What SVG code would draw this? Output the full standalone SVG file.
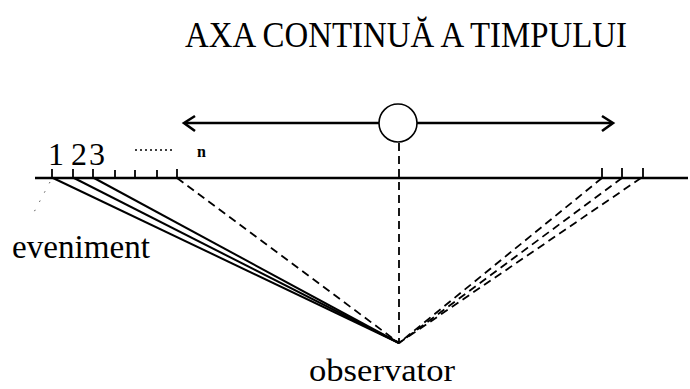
<svg xmlns="http://www.w3.org/2000/svg" width="690" height="389" viewBox="0 0 690 389">
<style>
.t{font-family:"Liberation Serif","Times New Roman",serif;fill:#000}
.ln{stroke:#000;fill:none}
.dash{stroke:#000;stroke-width:1.8;stroke-dasharray:8 5;fill:none}
.solid{stroke:#000;stroke-width:2;fill:none}
.tick{stroke:#000;stroke-width:1.8}
</style>
<rect width="690" height="389" fill="#fff"/>
<g id="title"><text class="t" x="185" y="47" font-size="36" textLength="442" lengthAdjust="spacingAndGlyphs">AXA CONTINUĂ A TIMPULUI</text></g>
<g id="time-arrow">
<line class="ln" x1="185" y1="123" x2="379" y2="123" stroke-width="2.6"/>
<line class="ln" x1="417" y1="123" x2="611" y2="123" stroke-width="2.6"/>
<polyline class="ln" points="195,116 184,123 195,131" stroke-width="2.6"/>
<polyline class="ln" points="602,116 613,123 602,131" stroke-width="2.6"/>
</g>
<g id="present"><circle cx="398" cy="123" r="19" fill="#fff" stroke="#000" stroke-width="1.6"/></g>
<g id="axis">
<line class="ln" x1="35" y1="178" x2="688" y2="178" stroke-width="2.4"/>
<g class="tick">
<line x1="52" y1="169" x2="52" y2="178"/>
<line x1="73" y1="169" x2="73" y2="178"/>
<line x1="93" y1="169" x2="93" y2="178"/>
<line x1="115" y1="170" x2="115" y2="178"/>
<line x1="135" y1="170" x2="135" y2="178"/>
<line x1="157" y1="170" x2="157" y2="178"/>
<line x1="177" y1="169" x2="177" y2="178"/>
<line x1="602" y1="168" x2="602" y2="178"/>
<line x1="622" y1="168" x2="622" y2="178"/>
<line x1="643" y1="168" x2="643" y2="178"/>
</g>
<text class="t" font-size="32" y="165"><tspan x="48">1</tspan><tspan x="71">2</tspan><tspan x="89">3</tspan></text>
<line x1="135" y1="150" x2="175" y2="150" stroke="#000" stroke-width="1.4" stroke-dasharray="2 3"/>
<text class="t" x="197" y="157" font-size="16" font-weight="bold">n</text>
</g>
<g id="connectors">
<line class="solid" x1="53" y1="178" x2="399" y2="343"/>
<line class="solid" x1="74" y1="178" x2="399" y2="343"/>
<line class="solid" x1="94" y1="178" x2="399" y2="343"/>
<line class="dash" x1="177" y1="178" x2="399" y2="343"/>
<line class="dash" x1="399" y1="143" x2="399" y2="343"/>
<line class="dash" x1="602" y1="178" x2="399" y2="343"/>
<line class="dash" x1="622" y1="178" x2="399" y2="343"/>
<line class="dash" x1="641" y1="178" x2="399" y2="343"/>
<line x1="50" y1="182" x2="33" y2="214" stroke="#555" stroke-width="1" stroke-dasharray="1.5 9"/>
</g>
<g id="event-label"><text class="t" x="12" y="258" font-size="33" textLength="138" lengthAdjust="spacingAndGlyphs">eveniment</text></g>
<g id="observer-label"><text class="t" x="309" y="381" font-size="32" textLength="146" lengthAdjust="spacingAndGlyphs">observator</text></g>
</svg>
